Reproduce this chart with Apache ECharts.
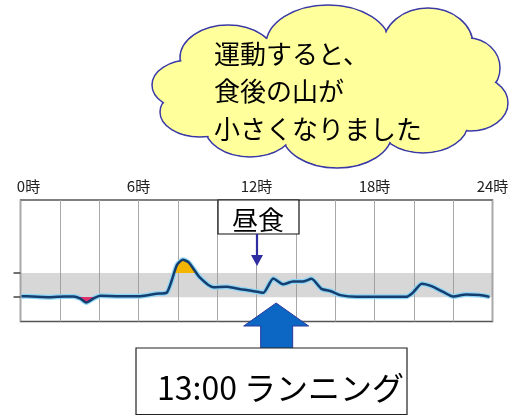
<!DOCTYPE html>
<html><head><meta charset="utf-8">
<script src="https://cdn.jsdelivr.net/npm/echarts@6/dist/echarts.min.js"></script>
<style>html,body{margin:0;padding:0;background:#fff}#c{width:513px;height:416px}</style>
</head><body><div id="c"></div>
<script>
// ---- data ----
const hours   = [0.05,0.6,1.5,2.2,2.7,3.05,3.35,3.7,4.05,5.0,6.1,6.9,7.45,7.95,8.25,8.55,9.1,9.8,10.5,11.2,11.8,12.35,12.85,13.35,13.85,14.35,14.8,15.3,15.75,16.25,17.1,18.4,19.6,19.95,20.4,20.9,21.5,22.0,22.65,23.35,23.85];
const glucose = [73,72,70,72,72,66,55,66,74,73,73,80,84,162,178,170,128,99,100,93,88,83,124,107,115,115,123,94,88,76,71,71,71,83,109,102,85,72,78,76,71];
const labelHours = [0,6,12,18,24];
const targetLow = 70, targetHigh = 140;
const lunchHour = 12, runHour = 13;
const cloudLines = ['運動すると、','食後の山が','小さくなりました'];
const lunchText = '昼食';
const runText = '13:00 ランニング';

const points = hours.map((h,i)=>[h, glucose[i]]);
const chart = echarts.init(document.getElementById('c'), null, {renderer:'canvas'});
const FONT = '"Noto Sans CJK JP","Noto Sans",sans-serif';

chart.setOption({
  animation:false,
  grid:{left:20.5, right:20.5, top:200, bottom:94.5, show:true, borderColor:'#555', borderWidth:1.5, backgroundColor:'transparent'},
  xAxis:{type:'value', min:0, max:24, interval:2, position:'top',
    axisLine:{show:false}, axisTick:{show:false},
    splitLine:{show:true, lineStyle:{color:'#a8a8a8', width:1}},
    axisLabel:{margin:6, fontSize:15, color:'#222', fontFamily:FONT, showMinLabel:true, showMaxLabel:true,
      formatter:v=> labelHours.indexOf(v)<0 ? '' : (v===0 ? '{s|0時}' : v+'時'),
      rich:{s:{fontSize:15, color:'#222', fontFamily:FONT, padding:[0,0,0,16]}}}
  },
  yAxis:{type:'value', min:0, max:350, axisLabel:{show:false}, splitLine:{show:false},
    axisLine:{show:false},
    axisTick:{show:true, length:7, inside:false, customValues:[targetLow,targetHigh], lineStyle:{color:'#444', width:1.5}}
  },
  visualMap:{show:false, type:'piecewise', seriesIndex:0, dimension:1,
    pieces:[{lt:targetLow, color:'#e2306e'},{gte:targetLow, lte:targetHigh, color:'rgba(255,255,255,0)'},{gt:targetHigh, color:'#f5b400'}]
  },
  series:[
    {type:'line', data:points, showSymbol:false, smooth:0.2, z:3.5,
      lineStyle:{width:0, opacity:0}, areaStyle:{origin:targetHigh, opacity:1},
      markArea:{silent:true, z:1, itemStyle:{color:'rgba(150,150,150,0.38)'}, data:[[{yAxis:targetLow},{yAxis:targetHigh}]]}
    },
    {type:'line', data:points, showSymbol:false, smooth:0.2, z:3, lineStyle:{color:'#8ed5f6', width:5}},
    {type:'line', data:points, showSymbol:false, smooth:0.2, z:4, lineStyle:{color:'#153e6e', width:2.5}}
  ]
});

const lunchX = chart.convertToPixel({xAxisIndex:0}, lunchHour);
const runX = chart.convertToPixel({xAxisIndex:0}, runHour);

// cloud
const ells = [
  [228,58,48,33],[328,45,62,40],[428,45,45,37],[468,68,32,30],[470,103,38,28],
  [423,123,45,30],[337,133,55,35],[250,127,45,30],[200,112,40,25],[190,85,38,25]
];
const gfx = [];
ells.forEach(e=>gfx.push({type:'ellipse', shape:{cx:e[0],cy:e[1],rx:e[2],ry:e[3]}, style:{fill:'#ffff9c', stroke:'#3a3aa6', lineWidth:1.5}, z:10}));
ells.forEach(e=>gfx.push({type:'ellipse', shape:{cx:e[0],cy:e[1],rx:e[2]-1.2,ry:e[3]-1.2}, style:{fill:'#ffff9c'}, z:11}));
gfx.push({type:'ellipse', shape:{cx:330,cy:88,rx:140,ry:55}, style:{fill:'#ffff9c'}, z:11});
cloudLines.forEach((t,i)=>gfx.push({type:'text', x:214, y:54+i*37.5, style:{text:t, font:'26px '+FONT, fill:'#000', textVerticalAlign:'middle', textAlign:'left'}, z:12}));

// lunch box + arrow
gfx.push({type:'rect', shape:{x:lunchX-38.5, y:200, width:81, height:34}, style:{fill:'#fff', stroke:'#111', lineWidth:1.2}, z:10});
gfx.push({type:'text', x:lunchX+1.5, y:220, style:{text:lunchText, font:'26px '+FONT, fill:'#000', textAlign:'center', textVerticalAlign:'middle'}, z:11});
gfx.push({type:'line', shape:{x1:lunchX+0.5, y1:234, x2:lunchX+0.5, y2:257}, style:{stroke:'#2e2ea0', lineWidth:2.2}, z:10});
gfx.push({type:'polygon', shape:{points:[[lunchX-5.5,255],[lunchX+6.5,255],[lunchX+0.5,266]]}, style:{fill:'#2e2ea0'}, z:10});

// running block arrow
gfx.push({type:'polygon', shape:{points:[[runX,303],[runX+32.5,326],[runX+16.5,326],[runX+16.5,349],[runX-15.5,349],[runX-15.5,326],[runX-32.5,326]]},
  style:{fill:'#0b66c4', stroke:'#2c3a9c', lineWidth:1}, z:10});
gfx.push({type:'rect', shape:{x:136, y:348, width:271, height:66.5}, style:{fill:'#fff', stroke:'#222', lineWidth:1.2}, z:10});
gfx.push({type:'text', x:157, y:388, style:{text:runText, font:'32px '+FONT, fill:'#000', textAlign:'left', textVerticalAlign:'middle'}, z:11});

chart.setOption({graphic:{elements:gfx}});
</script></body></html>
